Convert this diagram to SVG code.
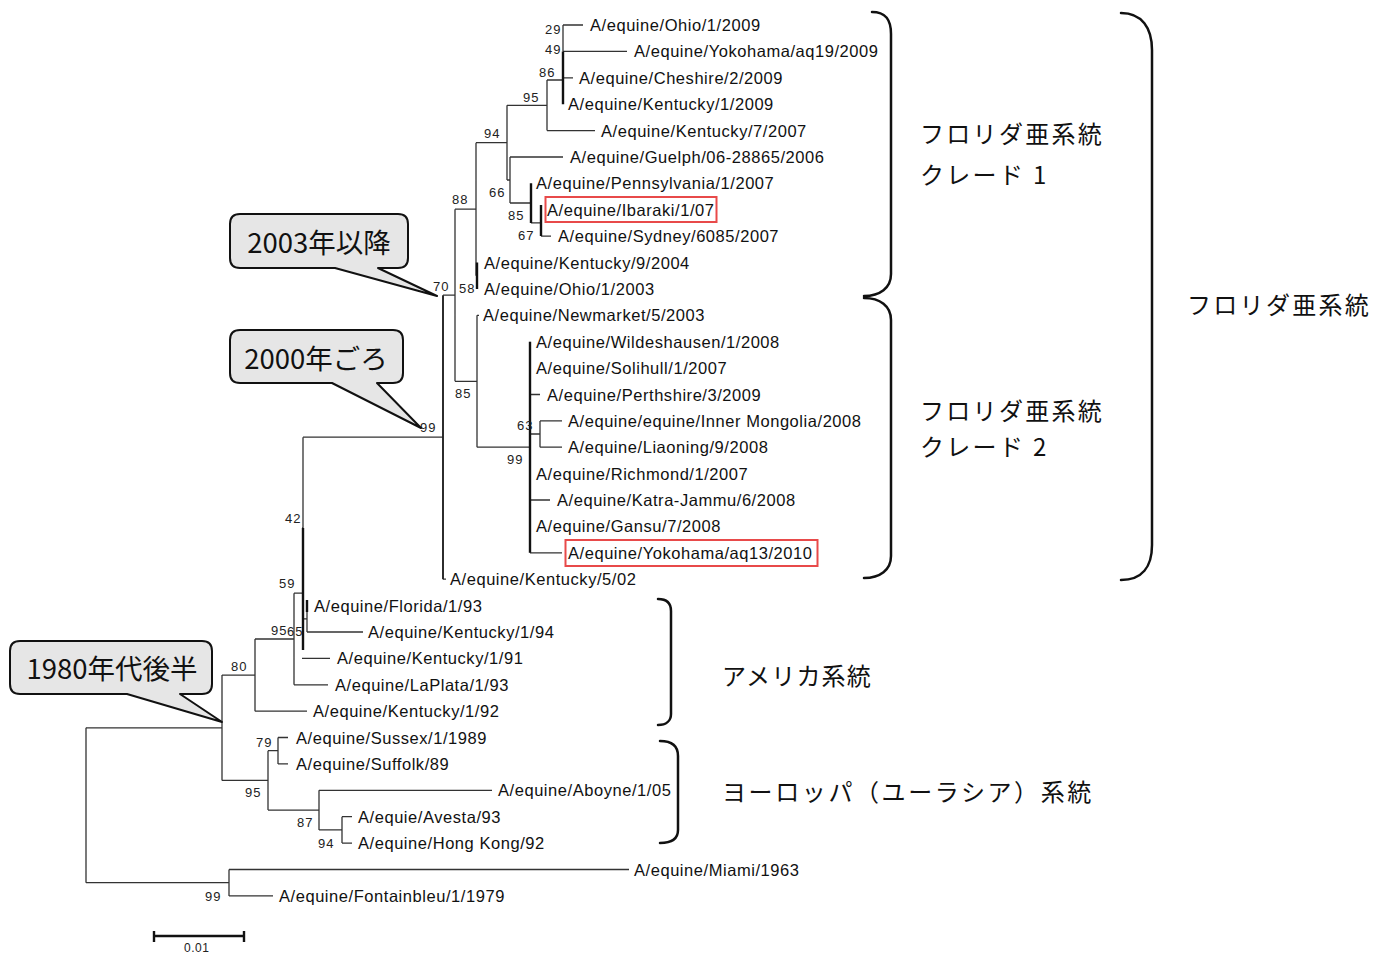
<svg xmlns="http://www.w3.org/2000/svg" width="1386" height="955" viewBox="0 0 1386 955">
<style>
.br{fill:none;stroke:#333;stroke-width:1.3}
.tk{fill:none;stroke:#111;stroke-width:2.4}
.lf{font-family:"Liberation Sans",Arial,sans-serif;font-size:16.5px;letter-spacing:0.55px;fill:#111;dominant-baseline:central}
.bs{font-family:"Liberation Sans",Arial,sans-serif;font-size:13px;letter-spacing:1px;fill:#222;dominant-baseline:central}
.jp{font-family:"Noto Sans CJK JP",sans-serif;font-size:24px;letter-spacing:2.3px;fill:#111;dominant-baseline:central}
.co{font-family:"Noto Sans CJK JP",sans-serif;font-size:27.5px;fill:#111;dominant-baseline:central;text-anchor:middle}
.bub{fill:#e6e6e6;stroke:#111;stroke-width:2;stroke-linejoin:round}
.brace{fill:none;stroke:#111;stroke-width:2.5;stroke-linecap:round}
.hl{fill:none;stroke:#e84a4a;stroke-width:2}
</style>
<rect width="1386" height="955" fill="#fff"/>
<g id="connectors">
<path class="br" d="M563 25V51.4M563 25H583M563 51.4H627M563 77.8H573M547 80H563M547 80V130.6M547 130.6H595M507 105.3H547M507 105.3V180M507 180H510M510 157V203M510 157H563M510 203H531M531 222.9H541M541 236.1H551M476 142.7H507M476 142.7V275.7M455 209.2H476"/>
<path class="tk" d="M563 51.4V104.2M531 183.3V222.9M541 205V236.1M477 262.5V288.9"/>
<path class="br" d="M477 315.3V447.2M477 315.3H479M455 381.3H477M477 447.2H530M530 394.5H540M530 434H540M540 420.9V447.2M540 420.9H562M540 447.2H562M530 500H550M530 552.8H562M455 209.2V381.3M443 295.2H455M303 437.2H443M443 579.2H446"/>
<path class="tk" d="M530 341.7V552.8"/>
<path class="br" style="stroke-width:1.9;stroke:#222" d="M443 295.2V579.2"/>
<path class="br" d="M303 437.2V528M303 618.8H307M307 612V632M307 632H363M302 528H303M302 658.4H330M294 593.2H302M294 593.2V684.8M294 684.8H328M255 639H294M255 639V711.2M255 711.2H307M222 675.1H255"/>
<path class="tk" d="M303 528V650M307 600V612"/>
<path class="br" d="M278 737.5V763.9M278 737.5H288M278 763.9H288M268 750.7H278M268 750.7V810.1M268 810.1H319M319 790.3V829.9M319 790.3H492M319 829.9H342M342 816.7V843.1M342 816.7H352M342 843.1H352M222 780.4H268M222 675.1V780.4M86 727.8H222"/>
<path class="br" d="M86 727.8V882.7M86 882.7H229M229 869.5V895.9M229 869.5H629M229 895.9H273"/>
</g>
<g id="bootstrap">
<text class="bs" x="545" y="29">29</text>
<text class="bs" x="545" y="49">49</text>
<text class="bs" x="539" y="72">86</text>
<text class="bs" x="523" y="97">95</text>
<text class="bs" x="484" y="133">94</text>
<text class="bs" x="489" y="192">66</text>
<text class="bs" x="452" y="199">88</text>
<text class="bs" x="508" y="215">85</text>
<text class="bs" x="518" y="235">67</text>
<text class="bs" x="433" y="286">70</text>
<text class="bs" x="459" y="288">58</text>
<text class="bs" x="455" y="393">85</text>
<text class="bs" x="517" y="425">63</text>
<text class="bs" x="420" y="427">99</text>
<text class="bs" x="507" y="459">99</text>
<text class="bs" x="285" y="518">42</text>
<text class="bs" x="279" y="583">59</text>
<text class="bs" x="271" y="630">95</text>
<text class="bs" x="287" y="631">65</text>
<text class="bs" x="231" y="666">80</text>
<text class="bs" x="256" y="742">79</text>
<text class="bs" x="245" y="792">95</text>
<text class="bs" x="297" y="822">87</text>
<text class="bs" x="318" y="843">94</text>
<text class="bs" x="205" y="896">99</text>
</g>
<g id="leaves">
<g id="leaf1"><text class="lf" x="590" y="25">A/equine/Ohio/1/2009</text></g>
<g id="leaf2"><text class="lf" x="634" y="51.4">A/equine/Yokohama/aq19/2009</text></g>
<g id="leaf3"><text class="lf" x="579" y="77.8">A/equine/Cheshire/2/2009</text></g>
<g id="leaf4"><text class="lf" x="568" y="104.2">A/equine/Kentucky/1/2009</text></g>
<g id="leaf5"><text class="lf" x="601" y="130.6">A/equine/Kentucky/7/2007</text></g>
<g id="leaf6"><text class="lf" x="570" y="157">A/equine/Guelph/06-28865/2006</text></g>
<g id="leaf7"><text class="lf" x="536" y="183.3">A/equine/Pennsylvania/1/2007</text></g>
<g id="leaf8"><rect class="hl" x="545.5" y="197" width="171" height="25"/><text class="lf" x="547" y="209.7">A/equine/Ibaraki/1/07</text></g>
<g id="leaf9"><text class="lf" x="558" y="236.1">A/equine/Sydney/6085/2007</text></g>
<g id="leaf10"><text class="lf" x="484" y="262.5">A/equine/Kentucky/9/2004</text></g>
<g id="leaf11"><text class="lf" x="484" y="288.9">A/equine/Ohio/1/2003</text></g>
<g id="leaf12"><text class="lf" x="483" y="315.3">A/equine/Newmarket/5/2003</text></g>
<g id="leaf13"><text class="lf" x="536" y="341.7">A/equine/Wildeshausen/1/2008</text></g>
<g id="leaf14"><text class="lf" x="536" y="368.1">A/equine/Solihull/1/2007</text></g>
<g id="leaf15"><text class="lf" x="547" y="394.5">A/equine/Perthshire/3/2009</text></g>
<g id="leaf16"><text class="lf" x="568" y="420.9">A/equine/equine/Inner Mongolia/2008</text></g>
<g id="leaf17"><text class="lf" x="568" y="447.2">A/equine/Liaoning/9/2008</text></g>
<g id="leaf18"><text class="lf" x="536" y="473.6">A/equine/Richmond/1/2007</text></g>
<g id="leaf19"><text class="lf" x="557" y="500">A/equine/Katra-Jammu/6/2008</text></g>
<g id="leaf20"><text class="lf" x="536" y="526.4">A/equine/Gansu/7/2008</text></g>
<g id="leaf21"><rect class="hl" x="565.5" y="540" width="252" height="26"/><text class="lf" x="568" y="552.8">A/equine/Yokohama/aq13/2010</text></g>
<g id="leaf22"><text class="lf" x="450" y="579.2">A/equine/Kentucky/5/02</text></g>
<g id="leaf23"><text class="lf" x="314" y="605.6">A/equine/Florida/1/93</text></g>
<g id="leaf24"><text class="lf" x="368" y="632">A/equine/Kentucky/1/94</text></g>
<g id="leaf25"><text class="lf" x="337" y="658.4">A/equine/Kentucky/1/91</text></g>
<g id="leaf26"><text class="lf" x="335" y="684.8">A/equine/LaPlata/1/93</text></g>
<g id="leaf27"><text class="lf" x="313" y="711.2">A/equine/Kentucky/1/92</text></g>
<g id="leaf28"><text class="lf" x="296" y="737.5">A/equine/Sussex/1/1989</text></g>
<g id="leaf29"><text class="lf" x="296" y="763.9">A/equine/Suffolk/89</text></g>
<g id="leaf30"><text class="lf" x="498" y="790.3">A/equine/Aboyne/1/05</text></g>
<g id="leaf31"><text class="lf" x="358" y="816.7">A/equie/Avesta/93</text></g>
<g id="leaf32"><text class="lf" x="358" y="843.1">A/equine/Hong Kong/92</text></g>
<g id="leaf33"><text class="lf" x="634" y="869.5">A/equine/Miami/1963</text></g>
<g id="leaf34"><text class="lf" x="279" y="895.9">A/equine/Fontainbleu/1/1979</text></g>
</g>
<g id="callout-2003">
<path class="bub" d="M240 214H398Q408 214 408 224V258Q408 268 398 268H378L437 296L335 268H240Q230 268 230 258V224Q230 214 240 214Z"/>
<text class="co" x="319" y="241">2003年以降</text>
</g>
<g id="callout-2000">
<path class="bub" d="M240 330H393Q403 330 403 340V373Q403 383 393 383H377L421 428L332 383H240Q230 383 230 373V340Q230 330 240 330Z"/>
<text class="co" x="316" y="357">2000年ごろ</text>
</g>
<g id="callout-1980">
<path class="bub" d="M20 641H202Q212 641 212 651V684Q212 694 202 694H180L222 722L127 694H20Q10 694 10 684V651Q10 641 20 641Z"/>
<text class="co" x="112" y="667">1980年代後半</text>
</g>
<g id="brace-clade1">
<path class="brace" d="M872 12C886 12 891 20 891 34V274C891 288 880 296 864 296"/>
<text class="jp" x="920" y="132">フロリダ亜系統</text>
<text class="jp" x="920" y="173">クレード 1</text>
</g>
<g id="brace-clade2">
<path class="brace" d="M864 298C880 298 891 306 891 320V556C891 570 880 578 864 578"/>
<text class="jp" x="920" y="409">フロリダ亜系統</text>
<text class="jp" x="920" y="445">クレード 2</text>
</g>
<g id="brace-florida">
<path class="brace" d="M1121 13C1142 13 1152 28 1152 50V545C1152 567 1142 580 1121 580"/>
<text class="jp" x="1187" y="303">フロリダ亜系統</text>
</g>
<g id="brace-america">
<path class="brace" d="M658 599C666 599 671 603 671 611V714C671 721 666 725 658 725"/>
<text class="jp" style="letter-spacing:1.2px" x="722" y="674">アメリカ系統</text>
</g>
<g id="brace-europe">
<path class="brace" d="M660 741C672 741 678 746 678 756V830C678 839 672 843 660 843"/>
<text class="jp" style="letter-spacing:2.6px" x="722" y="790">ヨーロッパ（ユーラシア）系統</text>
</g>
<g id="scalebar">
<path class="tk" d="M154 936H244M154 931V942M244 931V942"/>
<text class="bs" style="font-size:12px;letter-spacing:0.5px" x="184" y="948">0.01</text>
</g>
</svg>
